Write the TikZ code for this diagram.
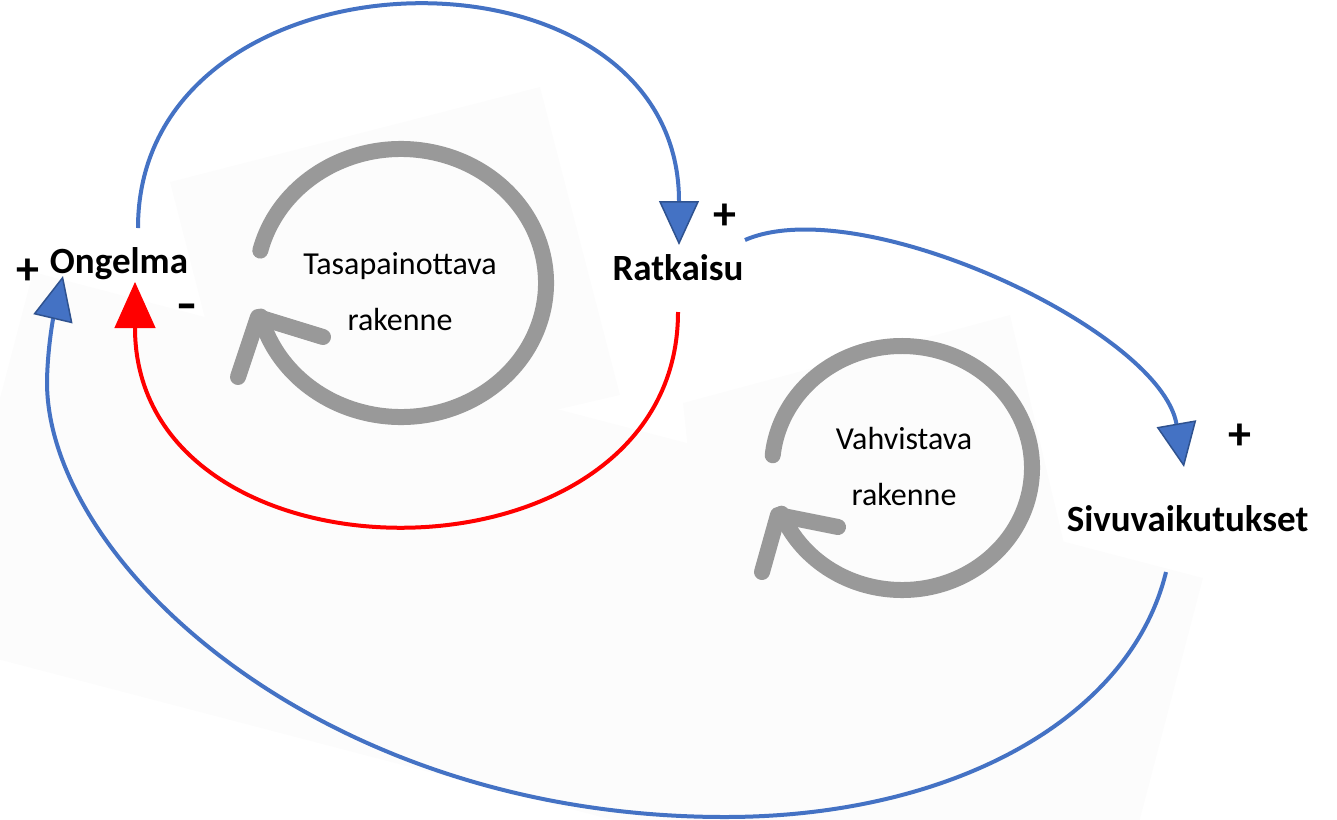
\documentclass[tikz,border=0pt]{standalone}
\usepackage{fontspec}
\setmainfont{Carlito}
\usetikzlibrary{arrows.meta}
\definecolor{linkblue}{HTML}{4472C4}
\definecolor{tipedge}{HTML}{2F528F}
\definecolor{loopgray}{HTML}{999999}
\definecolor{panel}{HTML}{FCFCFC}

\tikzset{
  var/.style={font=\fontsize{37}{40}\selectfont\bfseries, inner sep=0pt, anchor=base},
  looptext/.style={font=\fontsize{32}{56}\selectfont, align=center, inner sep=0pt},
  sign/.style={font=\fontsize{46}{46}\selectfont\bfseries, inner sep=0pt},
  poslink/.style={draw=linkblue, line width=4pt,
    -{Triangle[length=44pt,width=40pt,fill=linkblue,color=tipedge,line width=1.5pt]}},
  neglink/.style={draw=red, line width=4pt,
    -{Triangle[length=46pt,width=41pt,fill=red,color=red,line width=1pt]}},
  loopring/.style={draw=loopgray, line width=16pt, line cap=round, line join=round},
  bgpanel/.style={fill=panel, draw=none}
}

\begin{document}
\begin{tikzpicture}[x=1pt,y=-1pt]
\useasboundingbox (0,0) rectangle (1337,819);

% faint tilted panels behind the loop icons and the long link
\fill[bgpanel] (33,272) -- (1203,578) -- (1106,949) -- (-64,643) -- cycle;
\fill[bgpanel] (170,182) -- (540,87) -- (620,395) -- (247,482) -- cycle;
\fill[bgpanel] (683,403) -- (1010,315) -- (1075,590) -- (708,640) -- cycle;

% loop icons
\draw[loopring] (401,283) ++(-166:145 and 134) arc[start angle=-166, end angle=165.5, x radius=145, y radius=134];
\draw[loopring] (323,337) -- (258,317) -- (238,377);
\draw[loopring] (902,468) ++(-174:130 and 122) arc[start angle=-174, end angle=158, x radius=130, y radius=122];
\draw[loopring] (838,527) -- (778,515) -- (762,572);

\node[looptext] (bal) at (400,292) {Tasapainottava\\rakenne};
\node[looptext] (rei) at (904,466) {Vahvistava\\rakenne};

% variables
\node[var] (ong) at (119,273) {Ongelma};
\node[var] (rat) at (678,280) {Ratkaisu};
\node[var] (siv) at (1187.5,531) {Sivuvaikutukset};

% polarity signs
\node[sign] (s1) at (28,272) {+};
\node[sign] (s2) at (725,217) {+};
\node[sign] (s3) at (1240,437) {+};
\node[sign] (s4) at (187,312) {\scalebox{1.35}[1]{-}};

% causal links
\draw[poslink] ([shift={(19,-45)}]ong.base) .. controls +(0,-290) and +(0,-317) .. ([shift={(1,-35)}]rat.base);
\draw[neglink] ([shift={(0,32)}]rat.base) .. controls +(0,285) and +(0,315) .. ([shift={(16,9)}]ong.base);
\draw[poslink] ([shift={(67,-40)}]rat.base) .. controls +(115,-50) and +(-24,-137) .. ([shift={(-3.5,-64)}]siv.base);
\draw[poslink] ([shift={(-21.5,41)}]siv.base) .. controls (1130,720) and (950,817) .. (725,817)
   .. controls (320,817) and (45,560) .. (47,380)
   .. controls (48,340) and (55,310) .. ([shift={(-56,3)}]ong.base);
\end{tikzpicture}
\end{document}
